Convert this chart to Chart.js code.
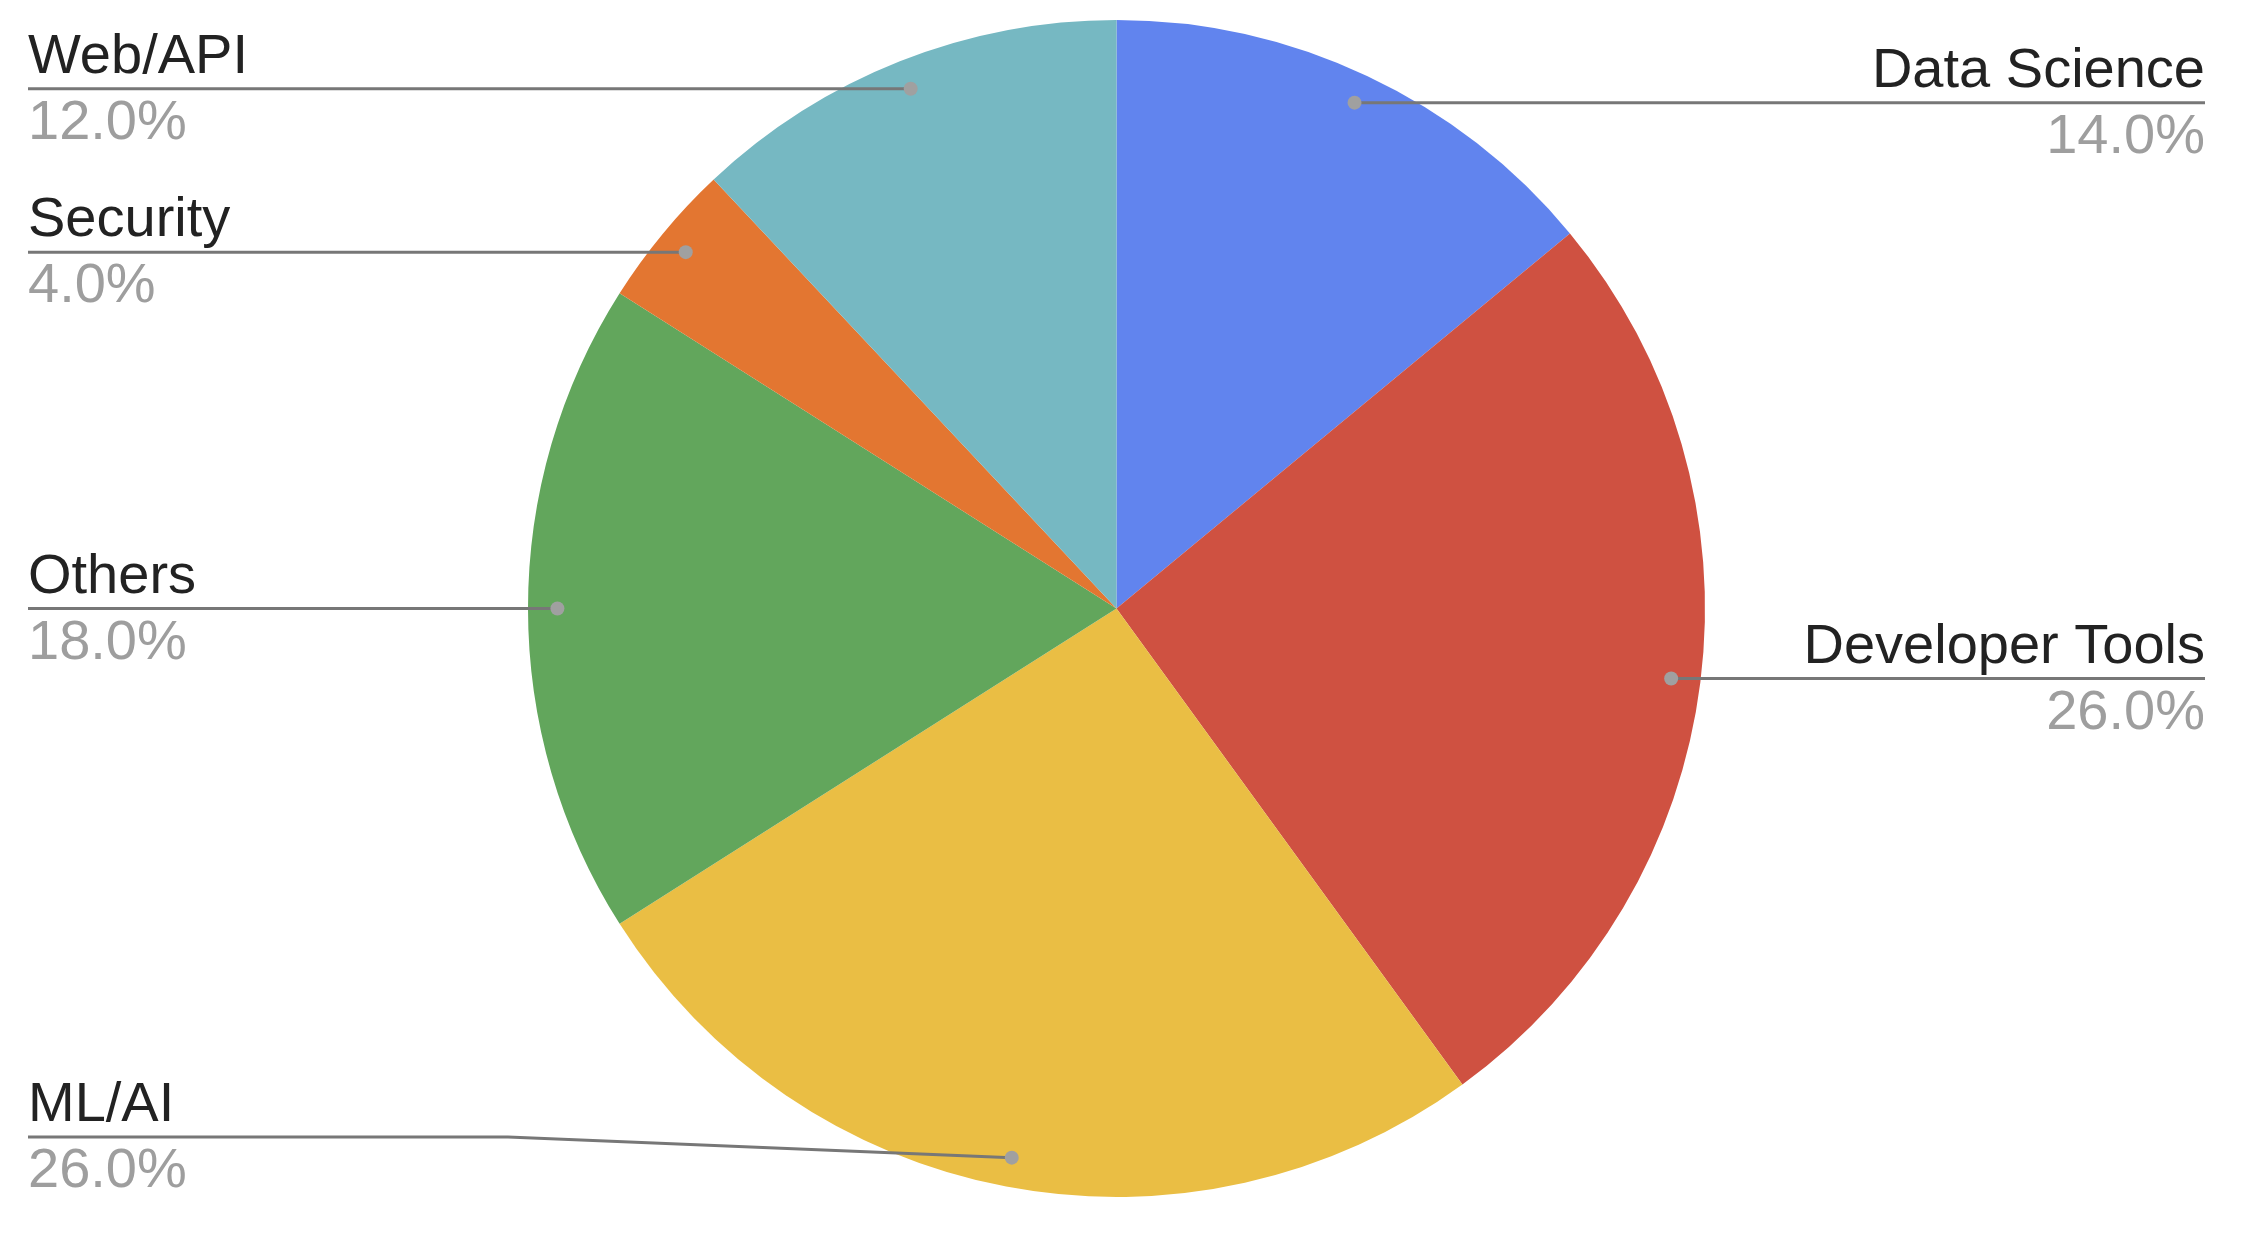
<!DOCTYPE html>
<html>
<head>
<meta charset="utf-8">
<script src="https://cdn.jsdelivr.net/npm/chart.js@4/dist/chart.umd.min.js"></script>
<style>
  html, body { margin: 0; padding: 0; background: #fff; }
  #wrap { width: 2245px; height: 1247px; position: relative; }
</style>
</head>
<body>
<div id="wrap"><canvas id="pieChart"></canvas></div>
<script>
// categories and shares (%)
const categories = ['Data Science', 'Developer Tools', 'ML/AI', 'Others', 'Security', 'Web/API'];
const shares = [14, 26, 26, 18, 4, 12];
const sliceColors = ['#6184EE', '#CF5141', '#EABE44', '#62A65C', '#E37631', '#76B8C2'];

// callout labels with leader lines, anchored on each arc's mid angle
const calloutPlugin = {
    id: 'callouts',
    afterDatasetsDraw(chart) {
        const ctx = chart.ctx;
        const meta = chart.getDatasetMeta(0);
        const total = shares.reduce((a, b) => a + b, 0);
        const leftX = 28, rightX = 2205;
        const maxLineY = chart.height - 110;

        meta.data.forEach((arc, i) => {
            const mid = (arc.startAngle + arc.endAngle) / 2;
            const r = arc.outerRadius * 0.95;
            const dx = arc.x + Math.cos(mid) * r;
            const dy = arc.y + Math.sin(mid) * r;
            const onRight = Math.cos(mid) >= 0;
            const lineY = Math.min(dy, maxLineY);
            const edgeX = onRight ? rightX : leftX;

            // leader line
            ctx.save();
            ctx.strokeStyle = '#777777';
            ctx.lineWidth = 3;
            ctx.beginPath();
            ctx.moveTo(edgeX, lineY);
            if (lineY !== dy) {
                const kinkX = onRight ? edgeX - 480 : edgeX + 480;
                ctx.lineTo(kinkX, lineY);
            }
            ctx.lineTo(dx, dy);
            ctx.stroke();

            // dot
            ctx.fillStyle = '#a0a0a0';
            ctx.beginPath();
            ctx.arc(dx, dy, 7, 0, Math.PI * 2);
            ctx.fill();

            // texts
            ctx.textAlign = onRight ? 'right' : 'left';
            ctx.textBaseline = 'alphabetic';
            ctx.font = '56px "Liberation Sans", Arial, Helvetica, sans-serif';
            ctx.fillStyle = '#222222';
            ctx.fillText(categories[i], edgeX, lineY - 16);
            ctx.fillStyle = '#9e9e9e';
            ctx.font = '56px "Liberation Sans", Arial, Helvetica, sans-serif';
            ctx.fillText((shares[i] / total * 100).toFixed(1) + '%', edgeX, lineY + 50);
            ctx.restore();
        });
    }
};

const ctx = document.getElementById('pieChart').getContext('2d');
new Chart(ctx, {
    type: 'pie',
    data: {
        labels: categories,
        datasets: [{
            data: shares,
            backgroundColor: sliceColors,
            borderWidth: 0
        }]
    },
    options: {
        responsive: true,
        maintainAspectRatio: false,
        animation: false,
        layout: {
            padding: { top: 20, bottom: 50, left: 528, right: 540 }
        },
        plugins: {
            legend: { display: false },
            tooltip: { enabled: false }
        }
    },
    plugins: [calloutPlugin]
});
</script>
</body>
</html>
